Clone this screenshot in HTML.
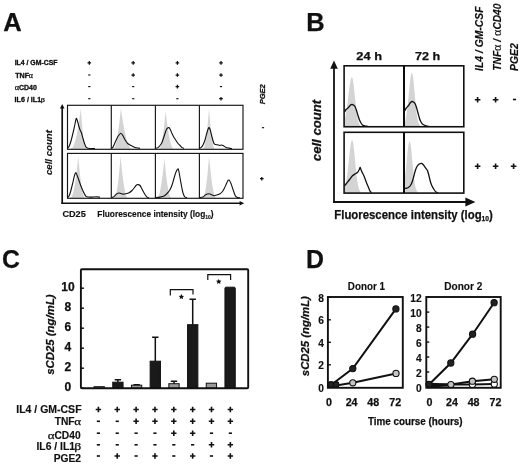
<!DOCTYPE html>
<html><head><meta charset="utf-8"><style>
html,body{margin:0;padding:0;background:#fff;width:520px;height:466px;overflow:hidden}
svg{display:block;filter:blur(0.3px)}
text{font-family:"Liberation Sans",sans-serif;font-weight:bold;fill:#111}
</style></head><body>
<svg width="520" height="466" viewBox="0 0 520 466">
<rect width="520" height="466" fill="#fff"/>
<text x="3.26" y="31" font-size="25.4" style="stroke:#111;stroke-width:0.25px;stroke-linejoin:round" textLength="18.46" lengthAdjust="spacingAndGlyphs">A</text>
<text x="306.25" y="31" font-size="25.4" style="stroke:#111;stroke-width:0.25px;stroke-linejoin:round" textLength="18.38" lengthAdjust="spacingAndGlyphs">B</text>
<text x="1.91" y="267.9" font-size="25.4" style="stroke:#111;stroke-width:0.25px;stroke-linejoin:round" textLength="17.89" lengthAdjust="spacingAndGlyphs">C</text>
<text x="306.08" y="268" font-size="25.4" style="stroke:#111;stroke-width:0.25px;stroke-linejoin:round" textLength="18" lengthAdjust="spacingAndGlyphs">D</text>
<text x="14.65" y="65.3" font-size="6.6" style="stroke:#111;stroke-width:0.3px;stroke-linejoin:round" textLength="42.84" lengthAdjust="spacingAndGlyphs">IL4 / GM-CSF</text>
<text x="15.23" y="77.7" font-size="6.6" style="stroke:#111;stroke-width:0.3px;stroke-linejoin:round" textLength="13.85" lengthAdjust="spacingAndGlyphs">TNF</text>
<text x="28.88" y="77.7" style="font-family:Liberation Serif,serif;font-weight:normal;font-style:normal;stroke:#111;stroke-width:0.25px" font-size="7.2" textLength="4.15" lengthAdjust="spacingAndGlyphs">α</text>
<text x="14.77" y="90.1" style="font-family:Liberation Serif,serif;font-weight:normal;font-style:normal;stroke:#111;stroke-width:0.25px" font-size="7.2" textLength="4.38" lengthAdjust="spacingAndGlyphs">α</text>
<text x="19.02" y="90.1" font-size="6.6" style="stroke:#111;stroke-width:0.3px;stroke-linejoin:round" textLength="17.8" lengthAdjust="spacingAndGlyphs">CD40</text>
<text x="14.64" y="102" font-size="6.6" style="stroke:#111;stroke-width:0.3px;stroke-linejoin:round" textLength="26.5" lengthAdjust="spacingAndGlyphs">IL6 / IL1</text>
<text x="40.66" y="101.9" style="font-family:Liberation Serif,serif;font-weight:normal;font-style:normal;stroke:#111;stroke-width:0.25px" font-size="6.8" textLength="4.25" lengthAdjust="spacingAndGlyphs">β</text>
<path d="M87.5,62.9H91.1M89.3,61.1V64.7" stroke="#111" stroke-width="1.25" fill="none"/>
<path d="M131.4,62.9H135M133.2,61.1V64.7" stroke="#111" stroke-width="1.25" fill="none"/>
<path d="M175.6,62.9H179.2M177.4,61.1V64.7" stroke="#111" stroke-width="1.25" fill="none"/>
<path d="M219.2,62.9H222.8M221,61.1V64.7" stroke="#111" stroke-width="1.25" fill="none"/>
<path d="M88.2,75H90.4" stroke="#111" stroke-width="1.15" fill="none"/>
<path d="M131.4,75H135M133.2,73.2V76.8" stroke="#111" stroke-width="1.25" fill="none"/>
<path d="M175.6,75H179.2M177.4,73.2V76.8" stroke="#111" stroke-width="1.25" fill="none"/>
<path d="M219.2,75H222.8M221,73.2V76.8" stroke="#111" stroke-width="1.25" fill="none"/>
<path d="M88.2,86.6H90.4" stroke="#111" stroke-width="1.15" fill="none"/>
<path d="M132.1,86.6H134.3" stroke="#111" stroke-width="1.15" fill="none"/>
<path d="M175.6,86.6H179.2M177.4,84.8V88.4" stroke="#111" stroke-width="1.25" fill="none"/>
<path d="M219.9,86.6H222.1" stroke="#111" stroke-width="1.15" fill="none"/>
<path d="M88.2,98.7H90.4" stroke="#111" stroke-width="1.15" fill="none"/>
<path d="M132.1,98.7H134.3" stroke="#111" stroke-width="1.15" fill="none"/>
<path d="M176.3,98.7H178.5" stroke="#111" stroke-width="1.15" fill="none"/>
<path d="M219.2,98.7H222.8M221,96.9V100.5" stroke="#111" stroke-width="1.25" fill="none"/>
<text transform="translate(265.1,104.25) rotate(-90)" font-size="7.7" style="stroke:#111;stroke-width:0.3px;stroke-linejoin:round" font-style="italic" textLength="19.98" lengthAdjust="spacingAndGlyphs">PGE2</text>
<path d="M261.9,127.7H264.1" stroke="#111" stroke-width="1.15" fill="none"/>
<path d="M260,178.7H263.6M261.8,176.9V180.5" stroke="#111" stroke-width="1.25" fill="none"/>
<path d="M70.8,148.8 L71.22,148.73 L71.63,148.52 L72.05,148.17 L72.47,147.68 L72.88,147.05 L73.3,146.28 L73.72,145.36 L74.13,144.31 L74.55,143.12 L74.97,141.79 L75.38,140.31 L75.8,138.7 L76.22,136.95 L76.63,135.05 L77.05,133.02 L77.47,130.84 L77.88,128.53 L78.3,126.08 L78.72,123.48 L79.13,120.74 L79.55,117.87 L79.97,114.85 L80.38,111.7 L80.8,108.4 L81.02,111.7 L81.25,114.85 L81.47,117.87 L81.7,120.74 L81.92,123.48 L82.15,126.08 L82.38,128.53 L82.6,130.84 L82.83,133.02 L83.05,135.05 L83.27,136.95 L83.5,138.7 L83.72,140.31 L83.95,141.79 L84.17,143.12 L84.4,144.31 L84.62,145.36 L84.85,146.28 L85.08,147.05 L85.3,147.68 L85.52,148.17 L85.75,148.52 L85.97,148.73 L86.2,148.8 Z" fill="#d4d4d4"/>
<path d="M113.1,148.8 L113.43,148.73 L113.75,148.52 L114.08,148.17 L114.4,147.68 L114.73,147.05 L115.05,146.28 L115.38,145.36 L115.7,144.31 L116.03,143.12 L116.35,141.79 L116.68,140.31 L117,138.7 L117.33,136.95 L117.65,135.05 L117.98,133.02 L118.3,130.84 L118.62,128.53 L118.95,126.08 L119.28,123.48 L119.6,120.74 L119.93,117.87 L120.25,114.85 L120.58,111.7 L120.9,108.4 L121.36,111.7 L121.82,114.85 L122.28,117.87 L122.73,120.74 L123.19,123.48 L123.65,126.08 L124.11,128.53 L124.57,130.84 L125.03,133.02 L125.48,135.05 L125.94,136.95 L126.4,138.7 L126.86,140.31 L127.32,141.79 L127.78,143.12 L128.23,144.31 L128.69,145.36 L129.15,146.28 L129.61,147.05 L130.07,147.68 L130.53,148.17 L130.98,148.52 L131.44,148.73 L131.9,148.8 Z" fill="#d4d4d4"/>
<path d="M158.85,148.8 L159.13,148.73 L159.42,148.54 L159.7,148.21 L159.98,147.75 L160.27,147.16 L160.55,146.43 L160.83,145.58 L161.12,144.59 L161.4,143.47 L161.68,142.22 L161.97,140.84 L162.25,139.33 L162.53,137.68 L162.82,135.9 L163.1,134 L163.38,131.96 L163.67,129.78 L163.95,127.48 L164.23,125.05 L164.52,122.48 L164.8,119.78 L165.08,116.95 L165.37,113.99 L165.65,110.9 L165.99,113.99 L166.33,116.95 L166.68,119.78 L167.02,122.48 L167.36,125.05 L167.7,127.48 L168.04,129.78 L168.38,131.96 L168.72,134 L169.07,135.9 L169.41,137.68 L169.75,139.33 L170.09,140.84 L170.43,142.22 L170.78,143.47 L171.12,144.59 L171.46,145.58 L171.8,146.43 L172.14,147.16 L172.48,147.75 L172.83,148.21 L173.17,148.54 L173.51,148.73 L173.85,148.8 Z" fill="#d4d4d4"/>
<path d="M202.86,148.8 L203.12,148.73 L203.38,148.52 L203.63,148.17 L203.89,147.68 L204.15,147.05 L204.41,146.28 L204.67,145.36 L204.93,144.31 L205.19,143.12 L205.44,141.79 L205.7,140.31 L205.96,138.7 L206.22,136.95 L206.48,135.05 L206.74,133.02 L206.99,130.84 L207.25,128.53 L207.51,126.08 L207.77,123.48 L208.03,120.74 L208.28,117.87 L208.54,114.85 L208.8,111.7 L209.06,108.4 L209.3,111.7 L209.54,114.85 L209.78,117.87 L210.03,120.74 L210.27,123.48 L210.51,126.08 L210.75,128.53 L210.99,130.84 L211.24,133.02 L211.48,135.05 L211.72,136.95 L211.96,138.7 L212.2,140.31 L212.44,141.79 L212.69,143.12 L212.93,144.31 L213.17,145.36 L213.41,146.28 L213.65,147.05 L213.89,147.68 L214.13,148.17 L214.38,148.52 L214.62,148.73 L214.86,148.8 Z" fill="#d4d4d4"/>
<path d="M70.3,197.8 L70.63,197.73 L70.97,197.51 L71.3,197.15 L71.63,196.65 L71.97,196.01 L72.3,195.22 L72.63,194.29 L72.97,193.21 L73.3,191.99 L73.63,190.63 L73.97,189.12 L74.3,187.48 L74.63,185.68 L74.97,183.75 L75.3,181.67 L75.63,179.44 L75.97,177.08 L76.3,174.57 L76.63,171.92 L76.97,169.12 L77.3,166.18 L77.63,163.1 L77.97,159.87 L78.3,156.5 L78.58,159.87 L78.87,163.1 L79.15,166.18 L79.43,169.12 L79.72,171.92 L80,174.57 L80.28,177.08 L80.57,179.44 L80.85,181.67 L81.13,183.75 L81.42,185.68 L81.7,187.48 L81.98,189.12 L82.27,190.63 L82.55,191.99 L82.83,193.21 L83.12,194.29 L83.4,195.22 L83.68,196.01 L83.97,196.65 L84.25,197.15 L84.53,197.51 L84.82,197.73 L85.1,197.8 Z" fill="#d4d4d4"/>
<path d="M114.1,197.8 L114.37,197.73 L114.64,197.51 L114.91,197.15 L115.18,196.64 L115.45,195.99 L115.72,195.19 L116,194.24 L116.27,193.16 L116.54,191.92 L116.81,190.54 L117.08,189.02 L117.35,187.35 L117.62,185.54 L117.89,183.58 L118.16,181.47 L118.43,179.22 L118.7,176.83 L118.97,174.29 L119.25,171.6 L119.52,168.77 L119.79,165.8 L120.06,162.68 L120.33,159.41 L120.6,156 L120.9,159.41 L121.2,162.68 L121.5,165.8 L121.8,168.77 L122.1,171.6 L122.4,174.29 L122.7,176.83 L123,179.22 L123.3,181.47 L123.6,183.58 L123.9,185.54 L124.2,187.35 L124.5,189.02 L124.8,190.54 L125.1,191.92 L125.4,193.16 L125.7,194.24 L126,195.19 L126.3,195.99 L126.6,196.64 L126.9,197.15 L127.2,197.51 L127.5,197.73 L127.8,197.8 Z" fill="#d4d4d4"/>
<path d="M157,197.8 L157.31,197.73 L157.62,197.52 L157.93,197.18 L158.23,196.69 L158.54,196.07 L158.85,195.31 L159.16,194.41 L159.47,193.38 L159.78,192.2 L160.08,190.89 L160.39,189.44 L160.7,187.85 L161.01,186.12 L161.32,184.26 L161.62,182.25 L161.93,180.11 L162.24,177.83 L162.55,175.41 L162.86,172.86 L163.17,170.16 L163.47,167.33 L163.78,164.36 L164.09,161.25 L164.4,158 L164.69,161.25 L164.98,164.36 L165.28,167.33 L165.57,170.16 L165.86,172.86 L166.15,175.41 L166.44,177.83 L166.73,180.11 L167.03,182.25 L167.32,184.26 L167.61,186.12 L167.9,187.85 L168.19,189.44 L168.48,190.89 L168.78,192.2 L169.07,193.38 L169.36,194.41 L169.65,195.31 L169.94,196.07 L170.23,196.69 L170.53,197.18 L170.82,197.52 L171.11,197.73 L171.4,197.8 Z" fill="#d4d4d4"/>
<path d="M202.7,197.8 L202.97,197.73 L203.23,197.51 L203.5,197.15 L203.77,196.64 L204.03,195.99 L204.3,195.19 L204.57,194.24 L204.83,193.16 L205.1,191.92 L205.37,190.54 L205.63,189.02 L205.9,187.35 L206.17,185.54 L206.43,183.58 L206.7,181.47 L206.97,179.22 L207.23,176.83 L207.5,174.29 L207.77,171.6 L208.03,168.77 L208.3,165.8 L208.57,162.68 L208.83,159.41 L209.1,156 L209.4,159.41 L209.7,162.68 L210,165.8 L210.3,168.77 L210.6,171.6 L210.9,174.29 L211.2,176.83 L211.5,179.22 L211.8,181.47 L212.1,183.58 L212.4,185.54 L212.7,187.35 L213,189.02 L213.3,190.54 L213.6,191.92 L213.9,193.16 L214.2,194.24 L214.5,195.19 L214.8,195.99 L215.1,196.64 L215.4,197.15 L215.7,197.51 L216,197.73 L216.3,197.8 Z" fill="#d4d4d4"/>
<path d="M67.5,148.4 C67.65,148.22 68.65,147.34 69,146.6 C69.35,145.86 70.6,142.36 71,141 C71.4,139.64 72.6,134.7 73,133 C73.4,131.3 74.68,125.47 75,124 C75.32,122.53 75.95,118.6 76.2,118.3 C76.45,118 77.27,120.33 77.5,121 C77.73,121.67 78.25,124.12 78.5,125 C78.75,125.88 79.7,129 80,129.8 C80.3,130.6 81.2,132.13 81.5,133 C81.8,133.87 82.7,137.45 83,138.5 C83.3,139.55 84.2,142.64 84.5,143.5 C84.8,144.36 85.65,146.63 86,147.1 C86.35,147.57 87.1,148.05 88,148.2 C88.9,148.35 94.3,148.56 95,148.6" fill="none" stroke="#111" stroke-width="1.1" stroke-linejoin="round"/>
<path d="M111.5,148.4 C111.65,148.27 112.6,147.79 113,147.1 C113.4,146.41 115,142.58 115.5,141.5 C116,140.42 117.46,137.13 118,136.3 C118.54,135.47 120.4,133.25 120.9,133.2 C121.4,133.15 122.59,135.14 123,135.8 C123.41,136.46 124.54,139.03 125,139.8 C125.46,140.57 127,142.92 127.6,143.5 C128.2,144.08 130.26,145.2 131,145.6 C131.74,146 134.1,147.22 135,147.5 C135.9,147.78 139.5,148.31 140,148.4" fill="none" stroke="#111" stroke-width="1.1" stroke-linejoin="round"/>
<path d="M155.5,148.4 C155.75,148.32 157.55,147.89 158,147.6 C158.45,147.31 159.6,146.01 160,145.5 C160.4,144.99 161.6,143.4 162,142.5 C162.4,141.6 163.6,137.7 164,136.5 C164.4,135.3 165.64,131.35 166,130.5 C166.36,129.65 167.27,128.27 167.6,128 C167.93,127.73 169.01,127.6 169.3,127.8 C169.59,128 170.23,129.43 170.5,130 C170.77,130.57 171.65,132.75 172,133.5 C172.35,134.25 173.6,136.8 174,137.5 C174.4,138.2 175.6,139.9 176,140.5 C176.4,141.1 177.6,143 178,143.5 C178.4,144 179.6,145.09 180,145.5 C180.4,145.91 181.6,147.31 182,147.6 C182.4,147.89 183.8,148.32 184,148.4" fill="none" stroke="#111" stroke-width="1.1" stroke-linejoin="round"/>
<path d="M199.5,148.4 C199.65,148.32 200.65,147.94 201,147.6 C201.35,147.26 202.6,145.76 203,145 C203.4,144.24 204.6,141.25 205,140 C205.4,138.75 206.67,133.65 207,132.5 C207.33,131.35 208.09,129 208.3,128.5 C208.51,128 208.9,127.35 209.1,127.5 C209.3,127.65 210.06,129.25 210.3,130 C210.54,130.75 211.25,134 211.5,135 C211.75,136 212.55,139.15 212.8,140 C213.05,140.85 213.73,143.05 214,143.5 C214.27,143.95 215.15,144.37 215.5,144.5 C215.85,144.63 217.1,144.7 217.5,144.8 C217.9,144.9 219.1,145.48 219.5,145.5 C219.9,145.52 221.1,144.97 221.5,145 C221.9,145.03 223.05,145.56 223.5,145.8 C223.95,146.04 225.45,147.17 226,147.4 C226.55,147.63 228.4,147.98 229,148.1 C229.6,148.22 231.7,148.55 232,148.6" fill="none" stroke="#111" stroke-width="1.1" stroke-linejoin="round"/>
<path d="M67.5,197.6 C67.65,197.45 68.7,196.66 69,196.1 C69.3,195.54 70.15,193.21 70.5,192 C70.85,190.79 72.1,185.65 72.5,184 C72.9,182.35 74.17,176.64 74.5,175.5 C74.83,174.36 75.55,172.65 75.8,172.6 C76.05,172.55 76.73,174.36 77,175 C77.27,175.64 78.2,178.15 78.5,179 C78.8,179.85 79.7,182.65 80,183.5 C80.3,184.35 81.2,186.75 81.5,187.5 C81.8,188.25 82.7,190.35 83,191 C83.3,191.65 84.2,193.46 84.5,194 C84.8,194.54 85.65,196.1 86,196.4 C86.35,196.7 87.4,196.93 88,197 C88.6,197.07 91.2,197.12 92,197.1 C92.8,197.08 95.2,196.79 96,196.8 C96.8,196.81 99.6,197.16 100,197.2" fill="none" stroke="#111" stroke-width="1.1" stroke-linejoin="round"/>
<path d="M111.5,197.6 C111.75,197.5 113.5,196.96 114,196.6 C114.5,196.24 116.05,194.36 116.5,194 C116.95,193.64 118.15,193.08 118.5,193 C118.85,192.92 119.65,193.1 120,193.2 C120.35,193.3 121.55,193.92 122,194 C122.45,194.08 124,194.05 124.5,194 C125,193.95 126.5,193.65 127,193.5 C127.5,193.35 129,192.8 129.5,192.5 C130,192.2 131.5,191 132,190.5 C132.5,190 134.05,188.05 134.5,187.5 C134.95,186.95 136.13,185.29 136.5,185 C136.87,184.71 137.85,184.55 138.2,184.6 C138.55,184.65 139.67,185.16 140,185.5 C140.33,185.84 141.2,187.45 141.5,188 C141.8,188.55 142.65,190.35 143,191 C143.35,191.65 144.6,193.89 145,194.5 C145.4,195.11 146.6,196.77 147,197.1 C147.4,197.43 148.8,197.73 149,197.8" fill="none" stroke="#111" stroke-width="1.1" stroke-linejoin="round"/>
<path d="M155.5,197.6 C155.95,197.55 159.15,197.25 160,197.1 C160.85,196.95 163.3,196.46 164,196.1 C164.7,195.74 166.45,194.06 167,193.5 C167.55,192.94 169.05,191.2 169.5,190.5 C169.95,189.8 171.15,187.35 171.5,186.5 C171.85,185.65 172.7,183 173,182 C173.3,181 174.2,177.5 174.5,176.5 C174.8,175.5 175.71,172.72 176,172 C176.29,171.28 177.17,169.59 177.4,169.3 C177.63,169.01 178.11,168.68 178.3,169.1 C178.49,169.52 179.09,172.41 179.3,173.5 C179.51,174.59 180.18,178.75 180.4,180 C180.62,181.25 181.29,184.9 181.5,186 C181.71,187.1 182.3,190.15 182.5,191 C182.7,191.85 183.25,193.89 183.5,194.5 C183.75,195.11 184.65,196.79 185,197.1 C185.35,197.41 186.8,197.55 187,197.6" fill="none" stroke="#111" stroke-width="1.1" stroke-linejoin="round"/>
<path d="M199.5,197.6 C199.85,197.55 202.35,197.41 203,197.1 C203.65,196.79 205.39,194.83 206,194.5 C206.61,194.17 208.6,193.8 209.1,193.8 C209.6,193.8 210.51,194.3 211,194.5 C211.49,194.7 213.4,195.75 214,195.8 C214.6,195.85 216.4,195.2 217,195 C217.6,194.8 219.45,194.15 220,193.8 C220.55,193.45 222.05,192.08 222.5,191.5 C222.95,190.92 224.1,188.8 224.5,188 C224.9,187.2 226.13,184.28 226.5,183.5 C226.87,182.72 227.9,180.5 228.2,180.2 C228.5,179.9 229.22,180.17 229.5,180.5 C229.78,180.83 230.7,182.75 231,183.5 C231.3,184.25 232.2,187.1 232.5,188 C232.8,188.9 233.7,191.69 234,192.5 C234.3,193.31 235.15,195.61 235.5,196.1 C235.85,196.59 237.05,197.23 237.5,197.4 C237.95,197.57 239.75,197.76 240,197.8" fill="none" stroke="#111" stroke-width="1.1" stroke-linejoin="round"/>
<rect x="67.5" y="105.3" width="175.5" height="44" fill="none" stroke="#151515" stroke-width="1.15"/>
<path d="M111.3,105.3V149.3" stroke="#151515" stroke-width="1.15"/>
<path d="M155.4,105.3V149.3" stroke="#151515" stroke-width="1.15"/>
<path d="M199.4,105.3V149.3" stroke="#151515" stroke-width="1.15"/>
<rect x="67.5" y="153.4" width="175.5" height="44.9" fill="none" stroke="#151515" stroke-width="1.15"/>
<path d="M111.3,153.4V198.3" stroke="#151515" stroke-width="1.15"/>
<path d="M155.4,153.4V198.3" stroke="#151515" stroke-width="1.15"/>
<path d="M199.4,153.4V198.3" stroke="#151515" stroke-width="1.15"/>
<path d="M62.2,204V107" stroke="#111" stroke-width="1.7"/>
<path d="M59.9,108.4L62.2,104L64.5,108.4Z" fill="#111"/>
<path d="M61.4,203.3H241" stroke="#111" stroke-width="1.5"/>
<path d="M239.6,201L244.2,203.3L239.6,205.6Z" fill="#111"/>
<text transform="translate(52,175.09) rotate(-90)" font-size="9.2" style="stroke:#111;stroke-width:0.15px;stroke-linejoin:round" font-style="italic" textLength="45.02" lengthAdjust="spacingAndGlyphs">cell count</text>
<text x="62.43" y="217" font-size="8.8" style="stroke:#111;stroke-width:0.15px;stroke-linejoin:round" textLength="23.36" lengthAdjust="spacingAndGlyphs">CD25</text>
<text x="97.37" y="217" font-size="8.4" style="stroke:#111;stroke-width:0.15px;stroke-linejoin:round" textLength="116.25" lengthAdjust="spacingAndGlyphs">Fluorescence intensity (log<tspan font-size="5" dy="1.6">10</tspan><tspan dy="-1.6">)</tspan></text>
<text x="356.31" y="60" font-size="11.4" style="stroke:#111;stroke-width:0.25px;stroke-linejoin:round" textLength="25.72" lengthAdjust="spacingAndGlyphs">24  h</text>
<text x="414.9" y="60" font-size="11.4" style="stroke:#111;stroke-width:0.25px;stroke-linejoin:round" textLength="25.2" lengthAdjust="spacingAndGlyphs">72  h</text>
<text transform="translate(483.2,70.91) rotate(-90)" font-size="10.2" style="stroke:#111;stroke-width:0.15px;stroke-linejoin:round" font-style="italic" textLength="64.38" lengthAdjust="spacingAndGlyphs">IL4 / GM-CSF</text>
<text transform="translate(500.5,70.7) rotate(-90)" font-size="10.2" style="stroke:#111;stroke-width:0.15px;stroke-linejoin:round" font-style="italic">TNF<tspan font-family="Liberation Serif" font-weight="normal" font-style="normal" font-size="12" textLength="6.4" lengthAdjust="spacingAndGlyphs">&#945;</tspan> / <tspan font-family="Liberation Serif" font-weight="normal" font-style="normal" font-size="12" textLength="6.4" lengthAdjust="spacingAndGlyphs">&#945;</tspan>CD40</text>
<text transform="translate(518.2,70.91) rotate(-90)" font-size="10.2" style="stroke:#111;stroke-width:0.15px;stroke-linejoin:round" font-style="italic" textLength="27.69" lengthAdjust="spacingAndGlyphs">PGE2</text>
<path d="M474.8,99.7H480.4M477.6,96.9V102.5" stroke="#111" stroke-width="1.6" fill="none"/>
<path d="M492.8,99.7H498.4M495.6,96.9V102.5" stroke="#111" stroke-width="1.6" fill="none"/>
<path d="M512.9,99.5H516.1" stroke="#111" stroke-width="1.6" fill="none"/>
<path d="M474.8,166.3H480.4M477.6,163.5V169.1" stroke="#111" stroke-width="1.6" fill="none"/>
<path d="M492.8,166.3H498.4M495.6,163.5V169.1" stroke="#111" stroke-width="1.6" fill="none"/>
<path d="M510.8,166.3H516.4M513.6,163.5V169.1" stroke="#111" stroke-width="1.6" fill="none"/>
<path d="M344.6,126.3 L345.1,118.04 L345.6,115.66 L346.1,112.86 L346.6,109.65 L347.1,106.07 L347.6,102.19 L348.1,98.11 L348.6,93.98 L349.1,89.94 L349.6,86.18 L350.1,82.88 L350.6,80.21 L351.1,78.3 L351.6,77.27 L352.1,77.21 L352.6,78.42 L353.1,80.88 L353.6,84.4 L354.1,88.7 L354.6,93.48 L355.1,98.45 L355.6,103.3 L356.1,107.83 L356.6,111.88 L357.1,115.35 L357.6,118.21 L358.1,120.49 L358.6,122.24 L359.1,123.54 L359.6,124.47 L360.1,125.13 L360.6,125.57 L360.6,126.3 Z" fill="#d4d4d4"/>
<path d="M404.6,126.3 L405.1,121.45 L405.6,119.48 L406.1,116.95 L406.6,113.82 L407.1,110.08 L407.6,105.74 L408.1,100.92 L408.6,95.77 L409.1,90.52 L409.6,85.44 L410.1,80.85 L410.6,77.03 L411.1,74.26 L411.6,72.75 L412.1,72.64 L412.6,74.16 L413.1,77.22 L413.6,81.56 L414.1,86.79 L414.6,92.5 L415.1,98.3 L415.6,103.83 L416.1,108.83 L416.6,113.15 L417.1,116.71 L417.6,119.53 L418.1,121.66 L418.6,123.23 L419.1,124.33 L419.6,125.07 L420.1,125.56 L420.1,126.3 Z" fill="#d4d4d4"/>
<path d="M344.6,192.7 L344.7,188.43 L345.2,186.77 L345.7,184.65 L346.2,182.02 L346.7,178.86 L347.2,175.17 L347.7,170.99 L348.2,166.44 L348.7,161.65 L349.2,156.81 L349.7,152.17 L350.2,147.96 L350.7,144.44 L351.2,141.83 L351.7,140.29 L352.2,139.93 L352.7,140.95 L353.2,143.33 L353.7,146.9 L354.2,151.37 L354.7,156.43 L355.2,161.74 L355.7,167 L356.2,171.95 L356.7,176.4 L357.2,180.25 L357.7,183.45 L358.2,186.02 L358.7,188 L359.2,189.49 L359.7,190.57 L360.2,191.32 L360.7,191.83 L360.7,192.7 Z" fill="#d4d4d4"/>
<path d="M404.6,192.7 L404.6,179.86 L405.1,175.98 L405.6,171.53 L406.1,166.62 L406.6,161.46 L407.1,156.31 L407.6,151.46 L408.1,147.25 L408.6,143.98 L409.1,141.91 L409.6,141.2 L410.1,142.01 L410.6,144.38 L411.1,148.08 L411.6,152.8 L412.1,158.13 L412.6,163.69 L413.1,169.12 L413.6,174.14 L414.1,178.54 L414.6,182.24 L415.1,185.22 L415.6,187.52 L416.1,189.22 L416.6,190.44 L417.1,191.27 L417.6,191.83 L417.6,192.7 Z" fill="#d4d4d4"/>
<path d="M344.6,112 C344.74,111.75 345.61,109.95 346,109.5 C346.39,109.05 348.05,107.95 348.5,107.5 C348.95,107.05 350.15,105.3 350.5,105 C350.85,104.7 351.7,104.5 352,104.5 C352.3,104.5 353.2,104.8 353.5,105 C353.8,105.2 354.7,105.95 355,106.5 C355.3,107.05 356.2,109.6 356.5,110.5 C356.8,111.4 357.7,114.55 358,115.5 C358.3,116.45 359.2,119.25 359.5,120 C359.8,120.75 360.65,122.46 361,123 C361.35,123.54 362.5,125.09 363,125.4 C363.5,125.71 365.5,126 366,126.1 C366.5,126.2 367.8,126.37 368,126.4" fill="none" stroke="#111" stroke-width="1.3" stroke-linejoin="round"/>
<path d="M404.6,111 C404.74,110.75 405.61,109.05 406,108.5 C406.39,107.95 408.05,106.1 408.5,105.5 C408.95,104.9 410.15,102.9 410.5,102.5 C410.85,102.1 411.7,101.55 412,101.5 C412.3,101.45 413.2,101.8 413.5,102 C413.8,102.2 414.7,102.95 415,103.5 C415.3,104.05 416.2,106.55 416.5,107.5 C416.8,108.45 417.7,111.9 418,113 C418.3,114.1 419.2,117.6 419.5,118.5 C419.8,119.4 420.65,121.39 421,122 C421.35,122.61 422.5,124.22 423,124.6 C423.5,124.98 425.4,125.62 426,125.8 C426.6,125.98 428.7,126.34 429,126.4" fill="none" stroke="#111" stroke-width="1.3" stroke-linejoin="round"/>
<path d="M344.6,186 C344.74,185.8 345.66,184.45 346,184 C346.34,183.55 347.6,182 348,181.5 C348.4,181 349.55,179.57 350,179 C350.45,178.43 352,176.3 352.5,175.8 C353,175.3 354.5,174.33 355,174 C355.5,173.67 357.07,172.95 357.5,172.5 C357.93,172.05 359.03,170.01 359.3,169.5 C359.57,168.99 360,167.3 360.2,167.4 C360.4,167.5 361.07,169.94 361.3,170.5 C361.53,171.06 362.23,172.45 362.5,173 C362.77,173.55 363.7,175.3 364,176 C364.3,176.7 365.2,179.2 365.5,180 C365.8,180.8 366.7,183.25 367,184 C367.3,184.75 368.2,186.79 368.5,187.5 C368.8,188.21 369.7,190.59 370,191.1 C370.3,191.61 371.35,192.45 371.5,192.6" fill="none" stroke="#111" stroke-width="1.3" stroke-linejoin="round"/>
<path d="M404.6,188.5 C404.74,188.48 405.66,188.37 406,188.3 C406.34,188.23 407.55,188.08 408,187.8 C408.45,187.52 410.05,186.18 410.5,185.5 C410.95,184.82 412.15,182 412.5,181 C412.85,180 413.7,176.6 414,175.5 C414.3,174.4 415.2,170.9 415.5,170 C415.8,169.1 416.65,167.08 417,166.5 C417.35,165.92 418.54,164.52 419,164.2 C419.46,163.88 421.2,163.27 421.6,163.3 C422,163.33 422.71,164.2 423,164.5 C423.29,164.8 424.2,165.9 424.5,166.3 C424.8,166.7 425.7,168.08 426,168.5 C426.3,168.92 427.25,169.95 427.5,170.5 C427.75,171.05 428.3,173.25 428.5,174 C428.7,174.75 429.3,177.2 429.5,178 C429.7,178.8 430.25,181.2 430.5,182 C430.75,182.8 431.65,185.25 432,186 C432.35,186.75 433.6,188.89 434,189.5 C434.4,190.11 435.6,191.79 436,192.1 C436.4,192.41 437.8,192.55 438,192.6" fill="none" stroke="#111" stroke-width="1.3" stroke-linejoin="round"/>
<rect x="344.1" y="65.8" width="119.7" height="60.95" fill="none" stroke="#111" stroke-width="1.6"/>
<path d="M404,65.8V126.75" stroke="#0a0a0a" stroke-width="2"/>
<rect x="344.1" y="132.3" width="119.7" height="60.8" fill="none" stroke="#111" stroke-width="1.6"/>
<path d="M404,132.3V193.1" stroke="#0a0a0a" stroke-width="2"/>
<path d="M334,202.8V66" stroke="#111" stroke-width="1.8"/>
<path d="M330.2,68.8L334,60.6L337.8,68.8Z" fill="#111"/>
<path d="M333.1,202H467" stroke="#111" stroke-width="1.8"/>
<path d="M465.4,197.6L475.4,202L465.4,206.4Z" fill="#111"/>
<text transform="translate(321,161.19) rotate(-90)" font-size="12" style="stroke:#111;stroke-width:0.25px;stroke-linejoin:round" font-style="italic" textLength="61.43" lengthAdjust="spacingAndGlyphs">cell count</text>
<text x="334.28" y="218.5" font-size="12.2" style="stroke:#111;stroke-width:0.25px;stroke-linejoin:round" textLength="158.6" lengthAdjust="spacingAndGlyphs">Fluorescence intensity (log<tspan font-size="7.2" dy="2.2">10</tspan><tspan dy="-2.2">)</tspan></text>
<rect x="94.05" y="386.7" width="10.3" height="1.5" fill="#9a9a9a" stroke="#111" stroke-width="1"/>
<path d="M117.9,382.2V379.7 M114.7,379.7H121.1" stroke="#111" stroke-width="1.5"/>
<rect x="112.75" y="382.2" width="10.3" height="6" fill="#1a1a1a" stroke="#111" stroke-width="1"/>
<path d="M136.6,385.2V384.7 M133.4,384.7H139.8" stroke="#111" stroke-width="1.5"/>
<rect x="131.45" y="385.2" width="10.3" height="3" fill="#9a9a9a" stroke="#111" stroke-width="1"/>
<path d="M155.3,361.2V337.2 M152.1,337.2H158.5" stroke="#111" stroke-width="1.5"/>
<rect x="150.15" y="361.2" width="10.3" height="27" fill="#1a1a1a" stroke="#111" stroke-width="1"/>
<path d="M174,383.7V381.2 M170.8,381.2H177.2" stroke="#111" stroke-width="1.5"/>
<rect x="168.85" y="383.7" width="10.3" height="4.5" fill="#9a9a9a" stroke="#111" stroke-width="1"/>
<path d="M192.7,324.7V299.2 M189.5,299.2H195.9" stroke="#111" stroke-width="1.5"/>
<rect x="187.55" y="324.7" width="10.3" height="63.5" fill="#1a1a1a" stroke="#111" stroke-width="1"/>
<rect x="206.25" y="383.2" width="10.3" height="5" fill="#9a9a9a" stroke="#111" stroke-width="1"/>
<path d="M224.95,388.2V288.3 Q224.95,287.2 226.05,287.2 H234.15 Q235.25,287.2 235.25,288.3 V388.2Z" fill="#1a1a1a" stroke="#111" stroke-width="1"/>
<rect x="80.9" y="269.3" width="167.3" height="118.9" fill="none" stroke="#111" stroke-width="1.9" rx="1"/>
<path d="M80.9,388.2H83.9" stroke="#111" stroke-width="1.5"/>
<text x="67.9" y="391.3" font-size="12" style="stroke:#111;stroke-width:0.25px;stroke-linejoin:round" text-anchor="middle">0</text>
<path d="M80.9,368.2H83.9" stroke="#111" stroke-width="1.5"/>
<text x="67.9" y="371.3" font-size="12" style="stroke:#111;stroke-width:0.25px;stroke-linejoin:round" text-anchor="middle">2</text>
<path d="M80.9,348.2H83.9" stroke="#111" stroke-width="1.5"/>
<text x="67.9" y="351.3" font-size="12" style="stroke:#111;stroke-width:0.25px;stroke-linejoin:round" text-anchor="middle">4</text>
<path d="M80.9,328.2H83.9" stroke="#111" stroke-width="1.5"/>
<text x="67.9" y="331.3" font-size="12" style="stroke:#111;stroke-width:0.25px;stroke-linejoin:round" text-anchor="middle">6</text>
<path d="M80.9,308.2H83.9" stroke="#111" stroke-width="1.5"/>
<text x="67.9" y="311.3" font-size="12" style="stroke:#111;stroke-width:0.25px;stroke-linejoin:round" text-anchor="middle">8</text>
<path d="M80.9,288.2H83.9" stroke="#111" stroke-width="1.5"/>
<text x="67.9" y="291.3" font-size="12" style="stroke:#111;stroke-width:0.25px;stroke-linejoin:round" text-anchor="middle">10</text>
<path d="M170.3,295.4V289.6H193V294.6" fill="none" stroke="#111" stroke-width="1.2"/>
<path d="M207.8,279.9V274.6H230.6V279.9" fill="none" stroke="#111" stroke-width="1.2"/>
<polygon points="181.4,294 182.22,295.67 184.06,295.93 182.73,297.23 183.05,299.07 181.4,298.2 179.75,299.07 180.07,297.23 178.74,295.93 180.58,295.67" fill="#111"/>
<polygon points="218.75,278.9 219.57,280.57 221.41,280.83 220.08,282.13 220.4,283.97 218.75,283.1 217.1,283.97 217.42,282.13 216.09,280.83 217.93,280.57" fill="#111"/>
<text transform="translate(54.1,374.87) rotate(-90)" font-size="11.2" style="stroke:#111;stroke-width:0.25px;stroke-linejoin:round" font-style="italic" textLength="80.53" lengthAdjust="spacingAndGlyphs">sCD25 (ng/mL)</text>
<text x="16.22" y="413" font-size="10.3" style="stroke:#111;stroke-width:0.15px;stroke-linejoin:round" textLength="65.33" lengthAdjust="spacingAndGlyphs">IL4 / GM-CSF</text>
<text x="54.75" y="425.4" font-size="10.3" style="stroke:#111;stroke-width:0.15px;stroke-linejoin:round" textLength="19.85" lengthAdjust="spacingAndGlyphs">TNF</text>
<text x="74.18" y="425.4" style="font-family:Liberation Serif,serif;font-weight:normal;font-style:normal;stroke:#111;stroke-width:0.25px" font-size="10" textLength="6.79" lengthAdjust="spacingAndGlyphs">α</text>
<text x="47.88" y="438.6" style="font-family:Liberation Serif,serif;font-weight:normal;font-style:normal;stroke:#111;stroke-width:0.25px" font-size="10" textLength="6.79" lengthAdjust="spacingAndGlyphs">α</text>
<text x="54.44" y="438.6" font-size="10.3" style="stroke:#111;stroke-width:0.15px;stroke-linejoin:round" textLength="26.14" lengthAdjust="spacingAndGlyphs">CD40</text>
<text x="36.43" y="450.4" font-size="10.3" style="stroke:#111;stroke-width:0.15px;stroke-linejoin:round" textLength="38.62" lengthAdjust="spacingAndGlyphs">IL6 / IL1</text>
<text x="74.31" y="450.4" style="font-family:Liberation Serif,serif;font-weight:normal;font-style:normal;stroke:#111;stroke-width:0.25px" font-size="9.4" textLength="6.96" lengthAdjust="spacingAndGlyphs">β</text>
<text x="53.63" y="461.9" font-size="10.3" style="stroke:#111;stroke-width:0.15px;stroke-linejoin:round" textLength="27.46" lengthAdjust="spacingAndGlyphs">PGE2</text>
<path d="M95.7,409.5H101.1M98.4,406.8V412.2" stroke="#111" stroke-width="1.6" fill="none"/>
<path d="M114.55,409.5H119.95M117.25,406.8V412.2" stroke="#111" stroke-width="1.6" fill="none"/>
<path d="M133.4,409.5H138.8M136.1,406.8V412.2" stroke="#111" stroke-width="1.6" fill="none"/>
<path d="M152.25,409.5H157.65M154.95,406.8V412.2" stroke="#111" stroke-width="1.6" fill="none"/>
<path d="M171.1,409.5H176.5M173.8,406.8V412.2" stroke="#111" stroke-width="1.6" fill="none"/>
<path d="M189.95,409.5H195.35M192.65,406.8V412.2" stroke="#111" stroke-width="1.6" fill="none"/>
<path d="M208.8,409.5H214.2M211.5,406.8V412.2" stroke="#111" stroke-width="1.6" fill="none"/>
<path d="M227.65,409.5H233.05M230.35,406.8V412.2" stroke="#111" stroke-width="1.6" fill="none"/>
<path d="M96.8,421.3H100" stroke="#111" stroke-width="1.6" fill="none"/>
<path d="M115.65,421.3H118.85" stroke="#111" stroke-width="1.6" fill="none"/>
<path d="M133.4,421.3H138.8M136.1,418.6V424" stroke="#111" stroke-width="1.6" fill="none"/>
<path d="M152.25,421.3H157.65M154.95,418.6V424" stroke="#111" stroke-width="1.6" fill="none"/>
<path d="M171.1,421.3H176.5M173.8,418.6V424" stroke="#111" stroke-width="1.6" fill="none"/>
<path d="M189.95,421.3H195.35M192.65,418.6V424" stroke="#111" stroke-width="1.6" fill="none"/>
<path d="M208.8,421.3H214.2M211.5,418.6V424" stroke="#111" stroke-width="1.6" fill="none"/>
<path d="M227.65,421.3H233.05M230.35,418.6V424" stroke="#111" stroke-width="1.6" fill="none"/>
<path d="M96.8,433.2H100" stroke="#111" stroke-width="1.6" fill="none"/>
<path d="M115.65,433.2H118.85" stroke="#111" stroke-width="1.6" fill="none"/>
<path d="M134.5,433.2H137.7" stroke="#111" stroke-width="1.6" fill="none"/>
<path d="M153.35,433.2H156.55" stroke="#111" stroke-width="1.6" fill="none"/>
<path d="M171.1,433.2H176.5M173.8,430.5V435.9" stroke="#111" stroke-width="1.6" fill="none"/>
<path d="M189.95,433.2H195.35M192.65,430.5V435.9" stroke="#111" stroke-width="1.6" fill="none"/>
<path d="M209.9,433.2H213.1" stroke="#111" stroke-width="1.6" fill="none"/>
<path d="M228.75,433.2H231.95" stroke="#111" stroke-width="1.6" fill="none"/>
<path d="M96.8,444.8H100" stroke="#111" stroke-width="1.6" fill="none"/>
<path d="M115.65,444.8H118.85" stroke="#111" stroke-width="1.6" fill="none"/>
<path d="M134.5,444.8H137.7" stroke="#111" stroke-width="1.6" fill="none"/>
<path d="M153.35,444.8H156.55" stroke="#111" stroke-width="1.6" fill="none"/>
<path d="M172.2,444.8H175.4" stroke="#111" stroke-width="1.6" fill="none"/>
<path d="M191.05,444.8H194.25" stroke="#111" stroke-width="1.6" fill="none"/>
<path d="M208.8,444.8H214.2M211.5,442.1V447.5" stroke="#111" stroke-width="1.6" fill="none"/>
<path d="M227.65,444.8H233.05M230.35,442.1V447.5" stroke="#111" stroke-width="1.6" fill="none"/>
<path d="M96.8,456H100" stroke="#111" stroke-width="1.6" fill="none"/>
<path d="M114.55,456H119.95M117.25,453.3V458.7" stroke="#111" stroke-width="1.6" fill="none"/>
<path d="M134.5,456H137.7" stroke="#111" stroke-width="1.6" fill="none"/>
<path d="M152.25,456H157.65M154.95,453.3V458.7" stroke="#111" stroke-width="1.6" fill="none"/>
<path d="M172.2,456H175.4" stroke="#111" stroke-width="1.6" fill="none"/>
<path d="M189.95,456H195.35M192.65,453.3V458.7" stroke="#111" stroke-width="1.6" fill="none"/>
<path d="M209.9,456H213.1" stroke="#111" stroke-width="1.6" fill="none"/>
<path d="M227.65,456H233.05M230.35,453.3V458.7" stroke="#111" stroke-width="1.6" fill="none"/>
<path d="M331,385 L352.8,368.6 L395.9,308.9" fill="none" stroke="#111" stroke-width="2"/>
<path d="M333,386 L352.8,382.8 L396,373.4" fill="none" stroke="#111" stroke-width="2"/>
<rect x="328" y="382.3" width="11" height="5.2" fill="#111"/>
<circle cx="331" cy="384.4" r="2.8" fill="#222" stroke="#111" stroke-width="1.1"/>
<circle cx="336" cy="384.4" r="2.8" fill="#222" stroke="#111" stroke-width="1.1"/>
<circle cx="352.8" cy="382.8" r="3.1" fill="#c4c4c4" stroke="#111" stroke-width="1.1"/>
<circle cx="396" cy="373.4" r="3.1" fill="#c4c4c4" stroke="#111" stroke-width="1.1"/>
<circle cx="352.8" cy="368.6" r="3.1" fill="#222" stroke="#111" stroke-width="1.1"/>
<circle cx="395.9" cy="308.9" r="3.1" fill="#222" stroke="#111" stroke-width="1.1"/>
<path d="M429,384.5 L450.9,384.6 L472.4,384.4 L494.3,384.1" fill="none" stroke="#111" stroke-width="2"/>
<path d="M450.9,384.6 L472.4,381.2 L494.3,379.3" fill="none" stroke="#111" stroke-width="2"/>
<path d="M429,384.5 L450.8,363 L472.6,334.2 L494.1,302.7" fill="none" stroke="#111" stroke-width="2"/>
<path d="M427,382.4 L440,383.2 L449,383.6 L449,386.6 L427,387.4Z" fill="#111"/>
<circle cx="429" cy="384.5" r="3.1" fill="#222" stroke="#111" stroke-width="1.1"/>
<circle cx="472.4" cy="384.4" r="3.1" fill="#fff" stroke="#111" stroke-width="1.1"/>
<circle cx="494.3" cy="384.1" r="3.1" fill="#fff" stroke="#111" stroke-width="1.1"/>
<circle cx="450.9" cy="384.6" r="3.1" fill="#c4c4c4" stroke="#111" stroke-width="1.1"/>
<circle cx="472.4" cy="381.2" r="3.1" fill="#c4c4c4" stroke="#111" stroke-width="1.1"/>
<circle cx="494.3" cy="379.3" r="3.1" fill="#c4c4c4" stroke="#111" stroke-width="1.1"/>
<circle cx="450.8" cy="363" r="3.1" fill="#222" stroke="#111" stroke-width="1.1"/>
<circle cx="472.6" cy="334.2" r="3.1" fill="#222" stroke="#111" stroke-width="1.1"/>
<circle cx="494.1" cy="302.7" r="3.1" fill="#222" stroke="#111" stroke-width="1.1"/>
<rect x="327.9" y="297" width="74.9" height="90.8" fill="none" stroke="#111" stroke-width="1.9"/>
<rect x="426.3" y="297" width="74.4" height="90.8" fill="none" stroke="#111" stroke-width="1.9"/>
<path d="M327.9,387.3H330.9" stroke="#111" stroke-width="1.4"/>
<text x="324" y="391.9" font-size="10.2" style="stroke:#111;stroke-width:0.15px;stroke-linejoin:round" text-anchor="end">0</text>
<path d="M327.9,364.8H330.9" stroke="#111" stroke-width="1.4"/>
<text x="324" y="369.4" font-size="10.2" style="stroke:#111;stroke-width:0.15px;stroke-linejoin:round" text-anchor="end">2</text>
<path d="M327.9,342.3H330.9" stroke="#111" stroke-width="1.4"/>
<text x="324" y="346.9" font-size="10.2" style="stroke:#111;stroke-width:0.15px;stroke-linejoin:round" text-anchor="end">4</text>
<path d="M327.9,319.8H330.9" stroke="#111" stroke-width="1.4"/>
<text x="324" y="324.4" font-size="10.2" style="stroke:#111;stroke-width:0.15px;stroke-linejoin:round" text-anchor="end">6</text>
<path d="M327.9,297.3H330.9" stroke="#111" stroke-width="1.4"/>
<text x="324" y="301.9" font-size="10.2" style="stroke:#111;stroke-width:0.15px;stroke-linejoin:round" text-anchor="end">8</text>
<path d="M426.3,387H429.3" stroke="#111" stroke-width="1.4"/>
<text x="421.6" y="391.6" font-size="10.2" style="stroke:#111;stroke-width:0.15px;stroke-linejoin:round" text-anchor="end">0</text>
<path d="M426.3,372.02H429.3" stroke="#111" stroke-width="1.4"/>
<text x="421.6" y="376.62" font-size="10.2" style="stroke:#111;stroke-width:0.15px;stroke-linejoin:round" text-anchor="end">2</text>
<path d="M426.3,357.04H429.3" stroke="#111" stroke-width="1.4"/>
<text x="421.6" y="361.64" font-size="10.2" style="stroke:#111;stroke-width:0.15px;stroke-linejoin:round" text-anchor="end">4</text>
<path d="M426.3,342.06H429.3" stroke="#111" stroke-width="1.4"/>
<text x="421.6" y="346.66" font-size="10.2" style="stroke:#111;stroke-width:0.15px;stroke-linejoin:round" text-anchor="end">6</text>
<path d="M426.3,327.08H429.3" stroke="#111" stroke-width="1.4"/>
<text x="421.6" y="331.68" font-size="10.2" style="stroke:#111;stroke-width:0.15px;stroke-linejoin:round" text-anchor="end">8</text>
<path d="M426.3,312.1H429.3" stroke="#111" stroke-width="1.4"/>
<text x="421.6" y="316.7" font-size="10.2" style="stroke:#111;stroke-width:0.15px;stroke-linejoin:round" text-anchor="end">10</text>
<path d="M426.3,297.12H429.3" stroke="#111" stroke-width="1.4"/>
<text x="421.6" y="301.72" font-size="10.2" style="stroke:#111;stroke-width:0.15px;stroke-linejoin:round" text-anchor="end">12</text>
<text x="329.1" y="405.5" font-size="10.7" style="stroke:#111;stroke-width:0.25px;stroke-linejoin:round" text-anchor="middle">0</text>
<text x="351.6" y="405.5" font-size="10.7" style="stroke:#111;stroke-width:0.25px;stroke-linejoin:round" text-anchor="middle">24</text>
<text x="373.3" y="405.5" font-size="10.7" style="stroke:#111;stroke-width:0.25px;stroke-linejoin:round" text-anchor="middle">48</text>
<text x="395.3" y="405.5" font-size="10.7" style="stroke:#111;stroke-width:0.25px;stroke-linejoin:round" text-anchor="middle">72</text>
<text x="429.5" y="405.5" font-size="10.7" style="stroke:#111;stroke-width:0.25px;stroke-linejoin:round" text-anchor="middle">0</text>
<text x="451.9" y="405.5" font-size="10.7" style="stroke:#111;stroke-width:0.25px;stroke-linejoin:round" text-anchor="middle">24</text>
<text x="473.6" y="405.5" font-size="10.7" style="stroke:#111;stroke-width:0.25px;stroke-linejoin:round" text-anchor="middle">48</text>
<text x="495.5" y="405.5" font-size="10.7" style="stroke:#111;stroke-width:0.25px;stroke-linejoin:round" text-anchor="middle">72</text>
<text x="347.86" y="290" font-size="10.4" style="stroke:#111;stroke-width:0.15px;stroke-linejoin:round" textLength="37.06" lengthAdjust="spacingAndGlyphs">Donor 1</text>
<text x="444.25" y="290" font-size="10.4" style="stroke:#111;stroke-width:0.15px;stroke-linejoin:round" textLength="38.04" lengthAdjust="spacingAndGlyphs">Donor 2</text>
<text transform="translate(309.3,376.17) rotate(-90)" font-size="11.3" style="stroke:#111;stroke-width:0.25px;stroke-linejoin:round" font-style="italic" textLength="80.03" lengthAdjust="spacingAndGlyphs">sCD25 (ng/mL)</text>
<text x="367.9" y="424.8" font-size="10.7" style="stroke:#111;stroke-width:0.25px;stroke-linejoin:round" textLength="94.64" lengthAdjust="spacingAndGlyphs">Time course (hours)</text>
</svg>
</body></html>
